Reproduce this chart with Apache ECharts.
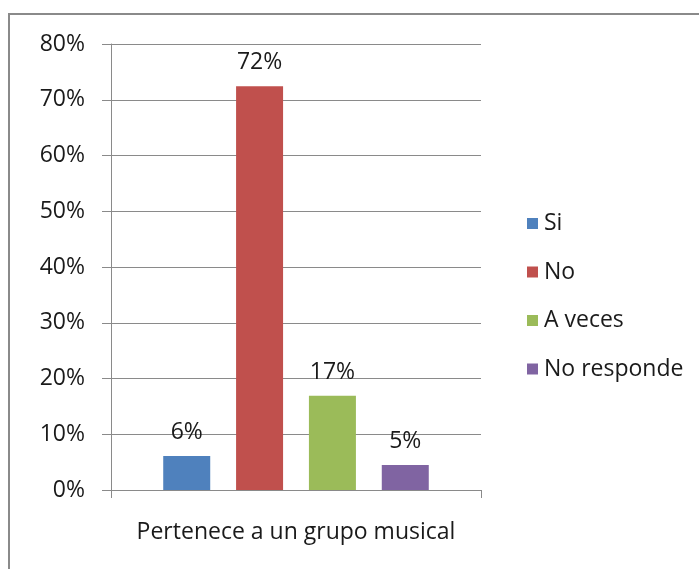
<!DOCTYPE html>
<html><head><meta charset="utf-8">
<script src="https://cdn.jsdelivr.net/npm/echarts@6/dist/echarts.min.js"></script>
<style>html,body{margin:0;padding:0;background:#fff}#c{width:699px;height:569px}</style>
</head><body><div id="c"></div>
<script>
var categories = ['Pertenece a un grupo musical'];
var seriesNames = ['Si', 'No', 'A veces', 'No responde'];
var seriesValues = [6.1, 72.4, 16.9, 4.5];
var seriesColors = ['#4F81BD', '#C0504D', '#9BBB59', '#8064A2'];
var yTicks = [0, 10, 20, 30, 40, 50, 60, 70, 80];

var FONT = 'Open Sans';
var FS = 23;
var chart = echarts.init(document.getElementById('c'), null, {renderer: 'canvas'});
var series = seriesNames.map(function (n, i) {
  return {
    name: n, type: 'bar', data: [seriesValues[i]],
    barWidth: 47, barGap: '55%',
    itemStyle: {color: seriesColors[i]},
    label: {show: true, position: 'top', distance: 12, color: '#1a1a1a', fontFamily: FONT, fontSize: FS,
      formatter: function (p) { return Math.round(p.value) + '%'; }}
  };
});
chart.setOption({
  animation: false,
  graphic: [{type: 'rect', shape: {x: 9, y: 14, width: 700, height: 600}, style: {fill: 'none', stroke: '#8a8a8a', lineWidth: 2}}],
  grid: {left: 111, top: 44, right: 218, bottom: 79},
  legend: {
    orient: 'vertical', left: 522, top: 207, itemGap: 25.5, itemWidth: 11, itemHeight: 11,
    icon: 'rect', textStyle: {fontFamily: FONT, fontSize: FS, color: '#1a1a1a', padding: [0, 0, 0, 1]},
    data: seriesNames
  },
  xAxis: {
    type: 'category', data: categories,
    axisLine: {lineStyle: {color: '#8a8a8a', width: 1}},
    axisTick: {show: true, length: 8, lineStyle: {color: '#8a8a8a'}},
    axisLabel: {fontFamily: FONT, fontSize: FS, color: '#1a1a1a', margin: 31}
  },
  yAxis: {
    type: 'value', min: yTicks[0], max: yTicks[yTicks.length - 1], interval: 10,
    axisLine: {show: true, lineStyle: {color: '#8a8a8a'}},
    axisTick: {show: true, length: 9, lineStyle: {color: '#8a8a8a'}},
    splitLine: {lineStyle: {color: '#8a8a8a'}},
    axisLabel: {fontFamily: FONT, fontSize: FS, color: '#1a1a1a', margin: 26, formatter: '{value}%'}
  },
  series: series
});
</script></body></html>
